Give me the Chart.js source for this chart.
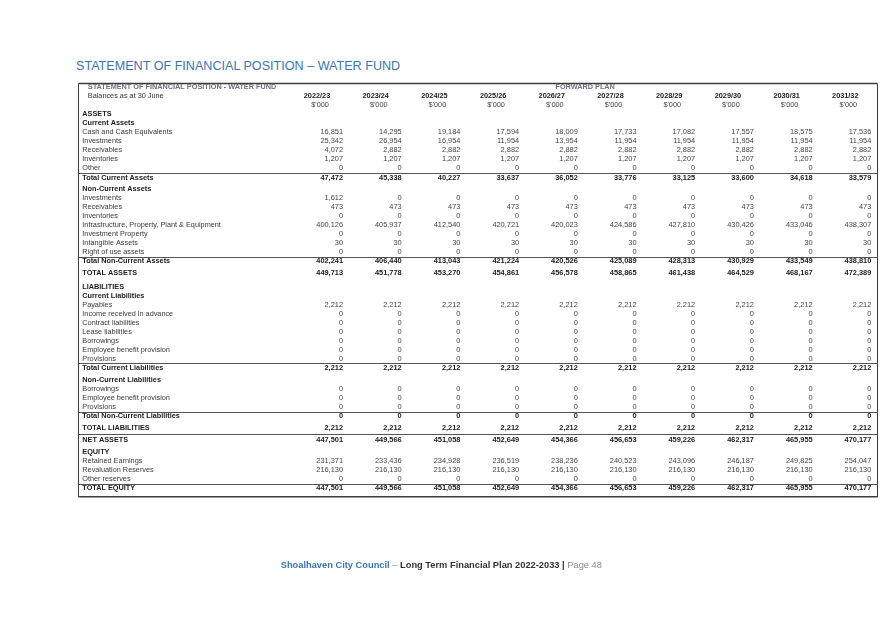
<!DOCTYPE html>
<html>
<head>
<meta charset="utf-8">
<script src="https://cdn.jsdelivr.net/npm/chart.js@4.4.1/dist/chart.umd.min.js"></script>
<style>
  html, body { margin: 0; padding: 0; background: #fff; }
  body { width: 888px; height: 628px; position: relative; overflow: hidden; font-family: 'Liberation Sans', Arial, sans-serif; }
  #page-title { position: absolute; left: 76px; top: 58.8px; font-size: 12.6px; line-height: 14px; color: #3a77b3; white-space: nowrap; }
  #page-footer { position: absolute; left: 280.7px; top: 559.6px; font-size: 9.3px; line-height: 11px; white-space: nowrap; }
  #page-footer .council { color: #3a77b3; font-weight: bold; }
  #page-footer .dash, #page-footer .page { color: #8a8a8a; }
  #page-footer .plan { color: #333; font-weight: bold; }
  canvas { position: absolute; left: 0; top: 0; }
</style>
</head>
<body>
<div id="page-title">STATEMENT OF FINANCIAL POSITION – WATER FUND</div>
<canvas id="statementChart" width="888" height="628"></canvas>
<div id="page-footer"><span class="council">Shoalhaven City Council</span> <span class="dash">–</span> <span class="plan">Long Term Financial Plan 2022-2033 |</span> <span class="page">Page 48</span></div>
<script>
// --- DATA ($'000, balances as at 30 June) ---
const years = ['2022/23', '2023/24', '2024/25', '2025/26', '2026/27', '2027/28', '2028/29', '2029/30', '2030/31', '2031/32'];

const cashEquivalents      = [16851, 14295, 19184, 17594, 18009, 17733, 17082, 17557, 18575, 17536];
const currentInvestments   = [25342, 26954, 16954, 11954, 13954, 11954, 11954, 11954, 11954, 11954];
const currentReceivables   = [4072, 2882, 2882, 2882, 2882, 2882, 2882, 2882, 2882, 2882];
const currentInventories   = [1207, 1207, 1207, 1207, 1207, 1207, 1207, 1207, 1207, 1207];
const currentOther         = [0, 0, 0, 0, 0, 0, 0, 0, 0, 0];
const totalCurrentAssets   = [47472, 45338, 40227, 33637, 36052, 33776, 33125, 33600, 34618, 33579];

const ncInvestments        = [1612, 0, 0, 0, 0, 0, 0, 0, 0, 0];
const ncReceivables        = [473, 473, 473, 473, 473, 473, 473, 473, 473, 473];
const ncInventories        = [0, 0, 0, 0, 0, 0, 0, 0, 0, 0];
const infrastructure       = [400126, 405937, 412540, 420721, 420023, 424586, 427810, 430426, 433046, 438307];
const investmentProperty   = [0, 0, 0, 0, 0, 0, 0, 0, 0, 0];
const intangibleAssets     = [30, 30, 30, 30, 30, 30, 30, 30, 30, 30];
const rightOfUseAssets     = [0, 0, 0, 0, 0, 0, 0, 0, 0, 0];
const totalNonCurrentAssets = [402241, 406440, 413043, 421224, 420526, 425089, 428313, 430929, 433549, 438810];
const totalAssets          = [449713, 451778, 453270, 454861, 456578, 458865, 461438, 464529, 468167, 472389];

const payables             = [2212, 2212, 2212, 2212, 2212, 2212, 2212, 2212, 2212, 2212];
const incomeInAdvance      = [0, 0, 0, 0, 0, 0, 0, 0, 0, 0];
const contractLiabilities  = [0, 0, 0, 0, 0, 0, 0, 0, 0, 0];
const leaseLiabilities     = [0, 0, 0, 0, 0, 0, 0, 0, 0, 0];
const currentBorrowings    = [0, 0, 0, 0, 0, 0, 0, 0, 0, 0];
const currentEmployeeProv  = [0, 0, 0, 0, 0, 0, 0, 0, 0, 0];
const currentProvisions    = [0, 0, 0, 0, 0, 0, 0, 0, 0, 0];
const totalCurrentLiabilities = [2212, 2212, 2212, 2212, 2212, 2212, 2212, 2212, 2212, 2212];

const ncBorrowings         = [0, 0, 0, 0, 0, 0, 0, 0, 0, 0];
const ncEmployeeProv       = [0, 0, 0, 0, 0, 0, 0, 0, 0, 0];
const ncProvisions         = [0, 0, 0, 0, 0, 0, 0, 0, 0, 0];
const totalNonCurrentLiabilities = [0, 0, 0, 0, 0, 0, 0, 0, 0, 0];
const totalLiabilities     = [2212, 2212, 2212, 2212, 2212, 2212, 2212, 2212, 2212, 2212];

const netAssets            = [447501, 449566, 451058, 452649, 454366, 456653, 459226, 462317, 465955, 470177];
const retainedEarnings     = [231371, 233436, 234928, 236519, 238236, 240523, 243096, 246187, 249825, 254047];
const revaluationReserves  = [216130, 216130, 216130, 216130, 216130, 216130, 216130, 216130, 216130, 216130];
const otherReserves        = [0, 0, 0, 0, 0, 0, 0, 0, 0, 0];
const totalEquity          = [447501, 449566, 451058, 452649, 454366, 456653, 459226, 462317, 465955, 470177];

// [label, kind, values]
const statementRows = [
    ['STATEMENT OF FINANCIAL POSITION - WATER FUND', 'caption', null],
    ['Balances as at 30 June', 'years', null],
    ['', 'units', null],
    ['ASSETS', 'section', null],
    ['Current Assets', 'sub', null],
    ['Cash and Cash Equivalents', 'item', cashEquivalents],
    ['Investments', 'item', currentInvestments],
    ['Receivables', 'item', currentReceivables],
    ['Inventories', 'item', currentInventories],
    ['Other', 'item', currentOther],
    ['Total Current Assets', 'total', totalCurrentAssets],
    ['Non-Current Assets', 'sub', null],
    ['Investments', 'item', ncInvestments],
    ['Receivables', 'item', ncReceivables],
    ['Inventories', 'item', ncInventories],
    ['Infrastructure, Property, Plant & Equipment', 'item', infrastructure],
    ['Investment Property', 'item', investmentProperty],
    ['Intangible Assets', 'item', intangibleAssets],
    ['Right of use assets', 'item', rightOfUseAssets],
    ['Total Non-Current Assets', 'total', totalNonCurrentAssets],
    ['TOTAL ASSETS', 'grand', totalAssets],
    ['LIABILITIES', 'section', null],
    ['Current Liabilities', 'sub', null],
    ['Payables', 'item', payables],
    ['Income received in advance', 'item', incomeInAdvance],
    ['Contract liabilities', 'item', contractLiabilities],
    ['Lease liabilities', 'item', leaseLiabilities],
    ['Borrowings', 'item', currentBorrowings],
    ['Employee benefit provision', 'item', currentEmployeeProv],
    ['Provisions', 'item', currentProvisions],
    ['Total Current Liabilities', 'total', totalCurrentLiabilities],
    ['Non-Current Liabilities', 'sub', null],
    ['Borrowings', 'item', ncBorrowings],
    ['Employee benefit provision', 'item', ncEmployeeProv],
    ['Provisions', 'item', ncProvisions],
    ['Total Non-Current Liabilities', 'total', totalNonCurrentLiabilities],
    ['TOTAL LIABILITIES', 'grand', totalLiabilities],
    ['NET ASSETS', 'net', netAssets],
    ['EQUITY', 'section', null],
    ['Retained Earnings', 'item', retainedEarnings],
    ['Revaluation Reserves', 'item', revaluationReserves],
    ['Other reserves', 'item', otherReserves],
    ['TOTAL EQUITY', 'total', totalEquity]
];

// --- ROW LAYOUT (row units on the y scale) ---
function rowGap(prev, cur) {
    if (cur === 'total') return 1.07;
    if (prev === 'total') return 1.3;
    if (prev === 'grand' && cur === 'section') return 1.56;
    if (prev === 'grand' || prev === 'net') return 1.33;
    return 1;
}
const rowPos = [];
statementRows.forEach((row, i) => {
    rowPos.push(i === 0 ? 0 : rowPos[i - 1] + rowGap(statementRows[i - 1][1], row[1]));
});

const ROW_PX = 8.957;
const FIRST_ROW_Y = 87.3;
const Y_MIN = -0.6;
const Y_MAX = rowPos[rowPos.length - 1] + 1.1;

const FONT = "'Liberation Sans', Arial, sans-serif";
const styles = {
    caption: { font: `bold 7.3px ${FONT}`, color: '#6b7380', indent: 5.5 },
    years:   { font: `7.3px ${FONT}`, color: '#333', indent: 5.5 },
    units:   { font: `7.3px ${FONT}`, color: '#444', indent: 0 },
    section: { font: `bold 7.3px ${FONT}`, color: '#222', indent: 0 },
    sub:     { font: `bold 7.3px ${FONT}`, color: '#222', indent: 0 },
    item:    { font: `7.3px ${FONT}`, color: '#3a3a3a', indent: 0 },
    total:   { font: `bold 7.3px ${FONT}`, color: '#222', indent: 0 },
    grand:   { font: `bold 7.3px ${FONT}`, color: '#222', indent: 0 },
    net:     { font: `bold 7.3px ${FONT}`, color: '#222', indent: 0 }
};
const TABLE_LEFT = 78.5, TABLE_RIGHT = 877.5, LABEL_X = 82.3, NUM_OFFSET = 26;

// --- TABLE DRAWING PLUGIN ---
const statementTable = {
    id: 'statementTable',
    afterDatasetsDraw(chart) {
        const ctx = chart.ctx;
        const xs = chart.scales.x, ys = chart.scales.y;
        const py = v => ys.getPixelForValue(v);
        ctx.save();

        // frame
        ctx.strokeStyle = '#3c3c3c';
        ctx.lineWidth = 1.6;
        const top = py(rowPos[0] - 0.42), bottom = py(rowPos[rowPos.length - 1] + 0.95);
        ctx.beginPath();
        ctx.moveTo(TABLE_LEFT, top); ctx.lineTo(TABLE_RIGHT, top);
        ctx.moveTo(TABLE_LEFT, bottom); ctx.lineTo(TABLE_RIGHT, bottom);
        ctx.stroke();
        ctx.lineWidth = 1;
        ctx.beginPath();
        ctx.moveTo(TABLE_LEFT, top); ctx.lineTo(TABLE_LEFT, bottom);
        ctx.moveTo(TABLE_RIGHT, top); ctx.lineTo(TABLE_RIGHT, bottom);
        ctx.stroke();

        // rules above totals
        ctx.strokeStyle = '#555';
        ctx.lineWidth = 1;
        statementRows.forEach((row, i) => {
            if (row[1] === 'total' || row[1] === 'net') {
                const ly = Math.round(py((rowPos[i - 1] + rowPos[i]) / 2)) + 0.5;
                ctx.beginPath(); ctx.moveTo(TABLE_LEFT, ly); ctx.lineTo(TABLE_RIGHT, ly); ctx.stroke();
            }
        });

        // row labels
        ctx.textBaseline = 'middle';
        ctx.textAlign = 'left';
        statementRows.forEach((row, i) => {
            const st = styles[row[1]];
            ctx.font = st.font; ctx.fillStyle = st.color;
            ctx.fillText(row[0], LABEL_X + st.indent, py(rowPos[i]));
        });

        // column headers
        const capRow = statementRows.findIndex(r => r[1] === 'caption');
        const yearRow = statementRows.findIndex(r => r[1] === 'years');
        const unitRow = statementRows.findIndex(r => r[1] === 'units');
        ctx.textAlign = 'center';
        ctx.font = styles.caption.font; ctx.fillStyle = styles.caption.color;
        ctx.fillText('FORWARD PLAN', (xs.getPixelForValue(4) + xs.getPixelForValue(5)) / 2 + 4, py(rowPos[capRow]));
        years.forEach((yr, i) => {
            const cx = xs.getPixelForValue(i);
            ctx.font = `bold 7.3px ${FONT}`; ctx.fillStyle = '#222';
            ctx.fillText(yr, cx, py(rowPos[yearRow]));
            ctx.font = styles.units.font; ctx.fillStyle = styles.units.color;
            ctx.fillText("$'000", cx + 3, py(rowPos[unitRow]));
        });

        // cell values, placed at the dataset points
        ctx.textAlign = 'right';
        chart.data.datasets.forEach((ds, d) => {
            const meta = chart.getDatasetMeta(d);
            const bold = ds.rowKind !== 'item';
            ctx.font = `${bold ? 'bold ' : ''}7.4px ${FONT}`;
            ctx.fillStyle = bold ? '#222' : '#444';
            meta.data.forEach((pt, i) => {
                ctx.fillText(ds.data[i].v.toLocaleString('en-US'), pt.x + NUM_OFFSET, pt.y);
            });
        });
        ctx.restore();
    }
};

const datasets = statementRows
    .map((row, i) => ({ row, pos: rowPos[i] }))
    .filter(r => r.row[2])
    .map(r => ({
        label: r.row[0],
        rowKind: r.row[1],
        data: r.row[2].map((v, i) => ({ x: years[i], y: r.pos, v })),
        showLine: false,
        pointRadius: 0,
        pointHoverRadius: 0
    }));

const plotTop = FIRST_ROW_Y + Y_MIN * ROW_PX;
const plotBottom = FIRST_ROW_Y + Y_MAX * ROW_PX;

new Chart(document.getElementById('statementChart'), {
    type: 'line',
    data: { labels: years, datasets },
    options: {
        responsive: false,
        animation: false,
        events: [],
        layout: { padding: { left: 287.65, right: 13.35, top: plotTop, bottom: 628 - plotBottom } },
        plugins: { legend: { display: false }, tooltip: { enabled: false }, title: { display: false } },
        scales: {
            x: { type: 'category', offset: true, display: false },
            y: { type: 'linear', reverse: true, min: Y_MIN, max: Y_MAX, display: false }
        }
    },
    plugins: [statementTable]
});
</script>
</body>
</html>
